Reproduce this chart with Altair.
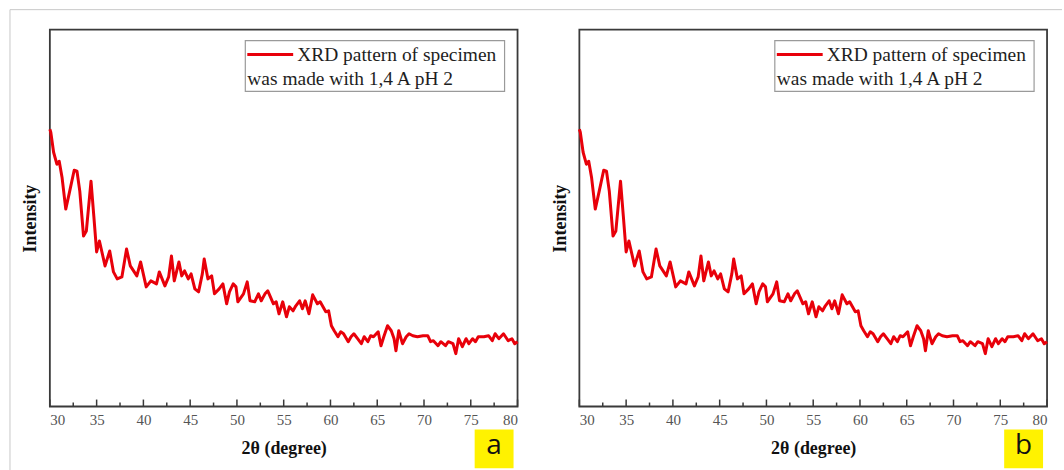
import altair as alt
import pandas as pd

# 2θ (degree) and intensity (arbitrary units)
two_theta = [30.0, 30.1, 30.4, 30.75, 31.0, 31.3, 31.7, 32.1, 32.6, 32.9,
             33.2, 33.6, 33.9, 34.4, 34.7, 35.0, 35.3, 35.9, 36.4, 36.8,
             37.2, 37.7, 38.2, 38.6, 39.3, 39.7, 40.3, 40.8, 41.4, 41.7,
             42.3, 42.7, 43.0, 43.3, 43.8, 44.1, 44.4, 44.8, 45.1, 45.5,
             45.9, 46.3, 46.5, 46.9, 47.3, 47.6, 48.1, 48.5, 48.9, 49.2,
             49.6, 49.9, 50.1, 50.7, 51.1, 51.4, 51.9, 52.3, 52.6, 53.0,
             53.3, 53.9, 54.2, 54.5, 54.9, 55.3, 55.6, 56.0, 56.3, 56.7,
             57.0, 57.3, 57.7, 58.1, 58.6, 58.9, 59.2, 59.5, 59.8, 60.1,
             60.4, 60.8, 61.1, 61.4, 61.9, 62.2, 62.5, 62.9, 63.3, 63.6,
             64.0, 64.3, 64.6, 65.1, 65.4, 65.7, 66.1, 66.5, 66.8, 67.0,
             67.3, 67.7, 68.1, 68.4, 68.8, 69.3, 69.9, 70.4, 70.7, 71.0,
             71.5, 71.8, 72.3, 72.6, 73.1, 73.4, 73.7, 74.1, 74.5, 74.8,
             75.2, 75.5, 75.8, 76.4, 76.9, 77.3, 77.6, 78.0, 78.5, 79.0,
             79.4, 79.7, 80.0]
intensity = [278, 275, 255, 243, 246, 230, 198, 215, 237, 236,
             216, 171, 176, 226, 191, 155, 166, 141, 156, 135,
             128, 130, 158, 141, 131, 145, 120, 126, 123, 135,
             121, 130, 151, 126, 145, 131, 136, 128, 133, 118,
             115, 133, 148, 128, 131, 113, 118, 123, 103, 115,
             123, 120, 105, 113, 125, 106, 105, 113, 106, 113,
             116, 103, 105, 93, 105, 90, 100, 96, 101, 106,
             98, 106, 93, 112, 103, 105, 100, 95, 96, 81,
             76, 70, 75, 73, 65, 70, 73, 68, 63, 70,
             65, 71, 70, 75, 61, 70, 81, 76, 68, 56,
             76, 63, 70, 73, 71, 70, 71, 71, 65, 66,
             61, 65, 61, 65, 63, 53, 68, 60, 68, 63,
             68, 65, 70, 70, 71, 66, 73, 68, 73, 66,
             68, 63, 65]

major_ticks = [30, 35, 40, 45, 50, 55, 60, 65, 70, 75, 80]
minor_ticks = [32.5, 37.5, 42.5, 47.5, 52.5, 57.5, 62.5, 67.5, 72.5, 77.5]
legend_line1 = "XRD pattern of specimen"
legend_line2 = "was made with 1,4 A pH 2"
panel_labels = ["a", "b"]

W, H = 469, 378
SERIF = "Liberation Serif"
RED = "#e8000a"

df = pd.DataFrame({"theta": two_theta, "intensity": intensity})
ticks_df = pd.DataFrame({
    "t": major_ticks + minor_ticks,
    "y0": [0] * (len(major_ticks) + len(minor_ticks)),
    "len": [7] * len(major_ticks) + [4] * len(minor_ticks),
})
one = pd.DataFrame({"k": [0]})

xscale = alt.Scale(domain=[30, 80], nice=False, zero=False)
yscale = alt.Scale(domain=[0, 378], nice=False, zero=False)


def panel(letter, with_border):
    line = alt.Chart(df).mark_line(color=RED, strokeWidth=3, strokeJoin="round").encode(
        x=alt.X("theta:Q", scale=xscale,
                axis=alt.Axis(values=major_ticks, format="d", title="2θ (degree)")),
        y=alt.Y("intensity:Q", scale=yscale, axis=alt.Axis(title="Intensity")),
    )
    ticks = alt.Chart(ticks_df).transform_calculate(y1="datum.y0 + datum.len").mark_rule(
        color="#3a3a3a", strokeWidth=1.5
    ).encode(
        x=alt.X("t:Q", scale=xscale),
        y=alt.Y("y0:Q", scale=yscale),
        y2="y1:Q",
    )
    box = alt.Chart(one).mark_rect(fill="white", stroke="#9a9a9a", strokeWidth=1.2).encode(
        x=alt.value(196), x2=alt.value(456), y=alt.value(11), y2=alt.value(62)
    )
    sample = alt.Chart(one).mark_rule(color=RED, strokeWidth=2.8).encode(
        x=alt.value(198), x2=alt.value(244), y=alt.value(25)
    )
    t1 = alt.Chart(one).mark_text(align="left", baseline="middle", font=SERIF,
                                  fontSize=19.5, color="#1e1e1e").encode(
        x=alt.value(248), y=alt.value(26), text=alt.value(legend_line1)
    )
    t2 = alt.Chart(one).mark_text(align="left", baseline="middle", font=SERIF,
                                  fontSize=19.5, color="#1e1e1e").encode(
        x=alt.value(198), y=alt.value(50), text=alt.value(legend_line2)
    )
    lab_box = alt.Chart(one).mark_rect(fill="#FFF200").encode(
        x=alt.value(426), x2=alt.value(465), y=alt.value(401), y2=alt.value(440)
    )
    lab_txt = alt.Chart(one).mark_text(align="center", baseline="middle", font="Open Sans",
                                       fontSize=28, color="#111").encode(
        x=alt.value(445.5), y=alt.value(418), text=alt.value(letter)
    )
    layers = [line, ticks, box, sample, t1, t2, lab_box, lab_txt]
    if with_border:
        top = alt.Chart(one).mark_rule(color="#c8c8c8", strokeWidth=1).encode(
            x=alt.value(-40), x2=alt.value(1015), y=alt.value(-20)
        )
        left = alt.Chart(one).mark_rule(color="#c8c8c8", strokeWidth=1).encode(
            x=alt.value(-40), y=alt.value(-20), y2=alt.value(443)
        )
        layers += [top, left]
    return alt.layer(*layers).properties(width=W, height=H)


chart = alt.hconcat(
    panel(panel_labels[0], True), panel(panel_labels[1], False),
    spacing=62, bounds="flush"
).properties(
    padding={"left": 8, "top": 7, "right": 0, "bottom": 0}
).configure_view(
    stroke="#3a3a3a", strokeWidth=1.8
).configure_axis(
    grid=False, domain=False, ticks=False,
    labelFont=SERIF, labelFontSize=15, labelColor="#555",
    titleFont=SERIF, titleFontSize=18, titleFontWeight="bold", titleColor="#111",
).configure_axisX(
    labelPadding=6, titlePadding=12,
).configure_axisY(
    labels=False, titlePadding=10,
)

chart.save("out.html", embed_options={"renderer": "svg", "actions": False})
